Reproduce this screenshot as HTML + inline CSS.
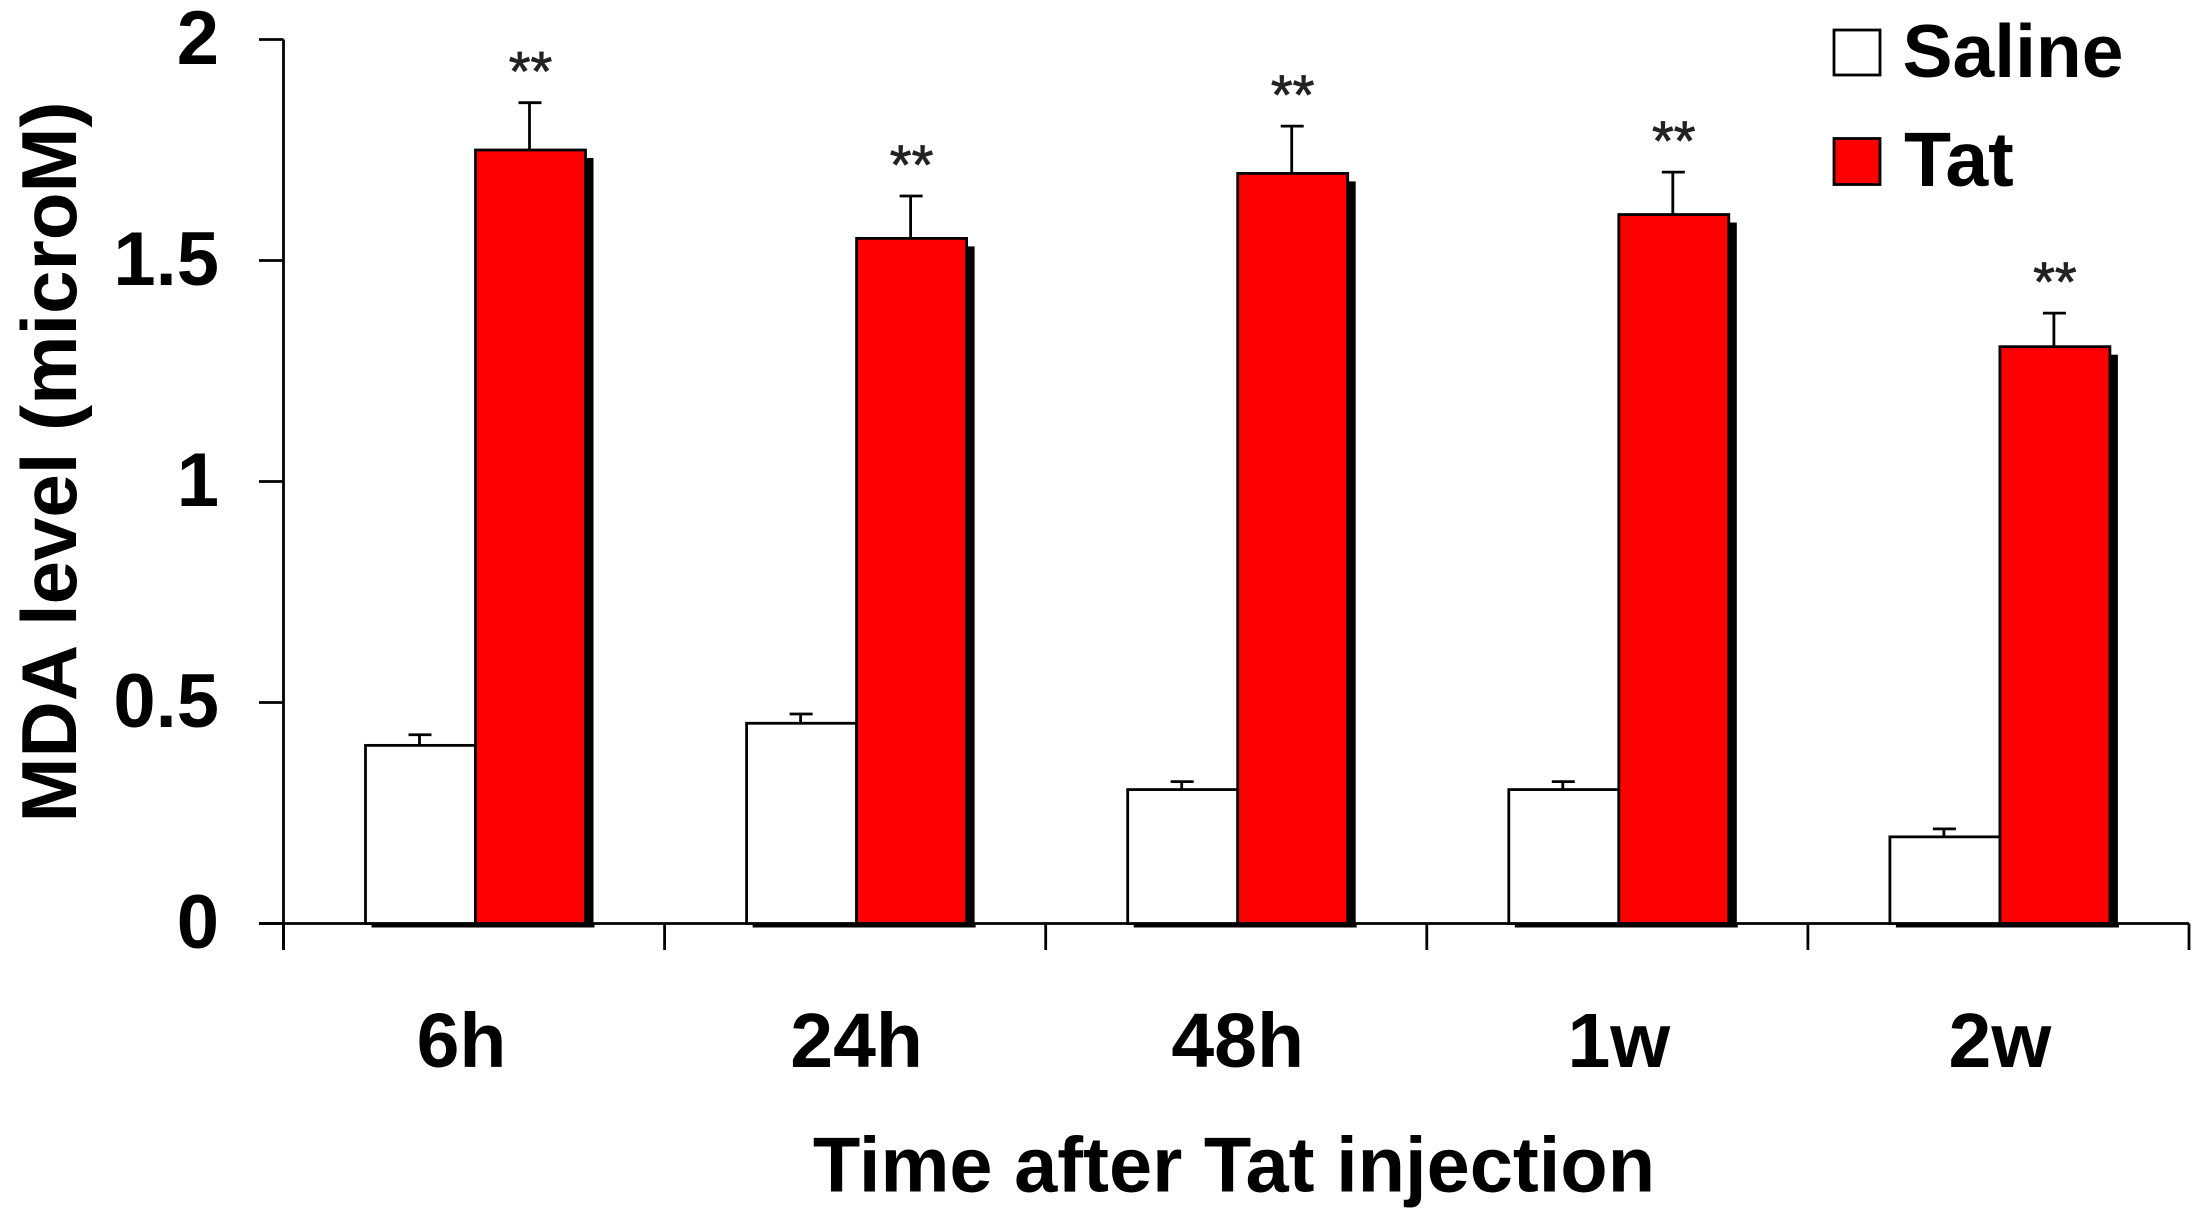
<!DOCTYPE html>
<html lang="en">
<head>
<meta charset="utf-8">
<title>MDA level after Tat injection</title>
<style>
  html, body { margin: 0; padding: 0; background: #fff; }
  body { width: 2199px; height: 1228px; overflow: hidden; }
  svg { display: block; }
  text { font-family: "Liberation Sans", Arial, sans-serif; fill: #000; }
  .b { font-weight: bold; }
</style>
</head>
<body>
<svg id="chart" xmlns="http://www.w3.org/2000/svg" width="2199" height="1228" viewBox="0 0 2199 1228">
  <rect x="0" y="0" width="2199" height="1228" fill="#fff"/>
</svg>
<script>
const categories = ['6h', '24h', '48h', '1w', '2w'];
const salineValues = [0.403, 0.453, 0.303, 0.303, 0.196];
const tatValues = [1.75, 1.55, 1.697, 1.604, 1.305];
const salineErrors = [0.024, 0.021, 0.018, 0.018, 0.018];
const tatErrors = [0.107, 0.096, 0.107, 0.096, 0.076];
const yTicks = [0, 0.5, 1, 1.5, 2];
const yTickLabels = ['0', '0.5', '1', '1.5', '2'];
const significance = ['**', '**', '**', '**', '**'];

const svg = document.getElementById('chart');
const NS = 'http://www.w3.org/2000/svg';
const plotLeft = 283.5, plotRight = 2189, zeroY = 923.5, pxPerUnit = 442;
const bandWidth = (plotRight - plotLeft) / categories.length;
const y = v => zeroY - v * pxPerUnit;
const band = i => plotLeft + i * bandWidth;
const barWidth = 110, groupMid = 192;
const strokeW = 2.8;

function make(tag, attrs, text) {
  const el = document.createElementNS(NS, tag);
  for (const k in attrs) el.setAttribute(k, attrs[k]);
  if (text !== undefined) el.textContent = text;
  svg.appendChild(el);
  return el;
}
function line(x1, y1, x2, y2, w) {
  return make('line', { x1, y1, x2, y2, stroke: '#000', 'stroke-width': w || strokeW });
}

// Y axis
let el = line(plotLeft, y(2), plotLeft, 950);


yTicks.forEach((t, i) => {
  const tick = line(259, y(t), plotLeft, y(t));
  
  
  const lab = make('text', { x: 219, y: y(t) + 24.5, 'text-anchor': 'end', 'font-size': 76, class: 'b' }, yTickLabels[i]);
  
  
});

// X axis
el = line(259, zeroY, plotRight, zeroY);


for (let i = 0; i <= categories.length; i++) {
  const tick = line(band(i), zeroY, band(i), 950);
  
  
}

// Bars
categories.forEach((c, i) => {
  const mid = band(i) + groupMid;
  const sx = mid - barWidth;
  const sTop = y(salineValues[i]);
  const tTop = y(tatValues[i]);

  const shadowBase = make('rect', { x: sx + 6, y: zeroY, width: 2 * barWidth + 3, height: 4, fill: '#000' });
  
  
  const shadow = make('rect', { x: mid + barWidth, y: tTop + 8, width: 8, height: zeroY + 4 - tTop - 8, fill: '#000' });
  
  

  const sEx = sx + barWidth / 2 - 1;
  const sEt = y(salineValues[i] + salineErrors[i]);
  const sErr = line(sEx, sTop, sEx, sEt);
  
  
  const sCap = line(sEx - 11, sEt, sEx + 12, sEt);
  
  

  const sBar = make('rect', { x: sx, y: sTop, width: barWidth, height: zeroY - sTop, fill: '#fff', stroke: '#000', 'stroke-width': strokeW });
  
  

  const tEx = mid + barWidth / 2 - 1;
  const tEt = y(tatValues[i] + tatErrors[i]);
  const tErr = line(tEx, tTop, tEx, tEt);
  
  
  const tCap = line(tEx - 11, tEt, tEx + 12, tEt);
  
  

  const tBar = make('rect', { x: mid, y: tTop, width: barWidth, height: zeroY - tTop, fill: '#f00', stroke: '#000', 'stroke-width': strokeW });
  
  

  const star = make('text', { x: tEx + 1, y: tEt - 12, 'text-anchor': 'middle', 'font-size': 56, style: 'fill:#222;stroke:#222;stroke-width:0.8' }, significance[i]);
  
  

  const nudge = i === 0 ? -14 : 0;
  const lab = make('text', { x: mid + nudge, y: 1067, 'text-anchor': 'middle', 'font-size': 77, class: 'b' }, c);
  
  
});

// Titles
el = make('text', { x: 1234, y: 1191.5, 'text-anchor': 'middle', 'font-size': 77.6, class: 'b' }, 'Time after Tat injection');


el = make('text', { transform: 'translate(76 462) rotate(-90)', x: 0, y: 0, 'text-anchor': 'middle', 'font-size': 78, class: 'b' }, 'MDA level (microM)');



// Legend
el = make('rect', { x: 1834, y: 30, width: 46, height: 45, fill: '#fff', stroke: '#000', 'stroke-width': 2.8 });


el = make('text', { x: 1902.5, y: 77, 'font-size': 75, class: 'b' }, 'Saline');


el = make('rect', { x: 1834, y: 138.5, width: 46, height: 46, fill: '#f00', stroke: '#000', 'stroke-width': 2.8 });


el = make('text', { x: 1904, y: 186, 'font-size': 77, class: 'b' }, 'Tat');


</script>
</body>
</html>
